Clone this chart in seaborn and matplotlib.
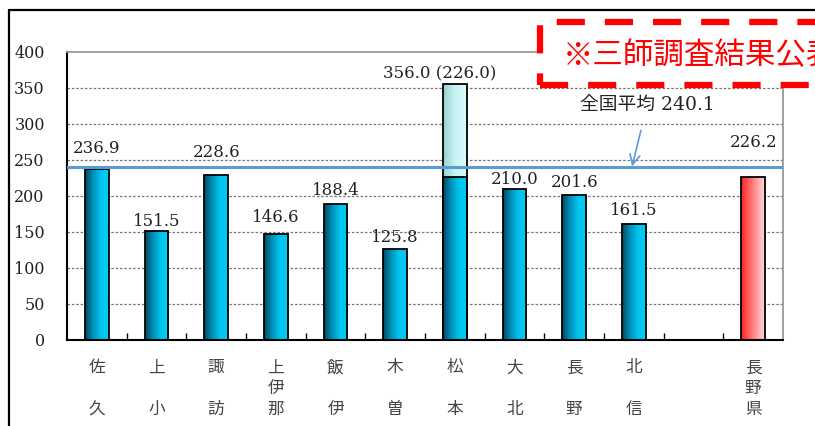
import numpy as np
import pandas as pd
import matplotlib
matplotlib.use("Agg")
import matplotlib.pyplot as plt
import seaborn as sns
from matplotlib.colors import LinearSegmentedColormap
from matplotlib.patches import Rectangle
from matplotlib.lines import Line2D

# ---- data ----
regions = ["佐久", "上小", "諏訪", "上伊那", "飯伊", "木曽", "松本", "大北", "長野", "北信", "", "長野県"]
values = [236.9, 151.5, 228.6, 146.6, 188.4, 125.8, 226.0, 210.0, 201.6, 161.5, np.nan, 226.2]
matsumoto_total = 356.0
national_avg = 240.1
value_labels = ["236.9", "151.5", "228.6", "146.6", "188.4", "125.8", "356.0 (226.0)",
                "210.0", "201.6", "161.5", "", "226.2"]
yticks = [0, 50, 100, 150, 200, 250, 300, 350, 400]

# label placement (pixels above bar top, horizontal shift in px)
label_dy = [21, 9, 23, 17, 14, 12, 10, 9, 12, 13, 0, 35]
label_dx = [0, 0, 0, 0, 0, 0, -15, 0, 0, 0, 0, 0]

sns.set_theme(style="white")
plt.rcParams["font.family"] = ["Noto Sans CJK JP", "DejaVu Sans"]

fig = plt.figure(figsize=(8.15, 4.26), dpi=100)
ax = fig.add_axes([67/815, 1-340/426, (783-67)/815, (340-52)/426])

keys = [f"r{i}" for i in range(len(regions))]
df = pd.DataFrame({"region": keys, "value": values})
idx_matsumoto = regions.index("松本")
tot = [np.nan]*len(regions)
tot[idx_matsumoto] = matsumoto_total
df_tot = pd.DataFrame({"region": keys, "value": tot})

sns.barplot(data=df_tot, x="region", y="value", ax=ax, width=0.4, color="#c0f0f0",
            edgecolor="black", linewidth=1.3, order=keys)
sns.barplot(data=df, x="region", y="value", ax=ax, width=0.4, color="#00c0e8",
            edgecolor="black", linewidth=1.3, order=keys)

cmap_blue = LinearSegmentedColormap.from_list("b", ["#004a62", "#0090b8", "#00c4ee", "#00ccf5"])
cmap_light = LinearSegmentedColormap.from_list("l", ["#98d0d0", "#c8f4f4", "#d8fcfc"])
cmap_red = LinearSegmentedColormap.from_list("r", ["#ff2020", "#ff8080", "#ffdada"])
grad = np.linspace(0, 1, 64).reshape(1, -1)

patches = [p for p in ax.patches if np.isfinite(p.get_height()) and p.get_height() > 0]
for p in patches:
    x0, y0 = p.get_x(), p.get_y()
    w, h = p.get_width(), p.get_height()
    i = int(round(x0 + w/2))
    if abs(h - matsumoto_total) < 1e-6:
        cm = cmap_light
    elif regions[i] == "長野県":
        cm = cmap_red
    else:
        cm = cmap_blue
    im = ax.imshow(grad, extent=[x0, x0+w, y0, y0+h], aspect="auto", cmap=cm,
                   zorder=p.get_zorder()+0.1, interpolation="bilinear")
    im.set_clip_path(p)
    p.set_facecolor("none")
    p.set_zorder(p.get_zorder()+0.2)

ax.set_xlim(-0.5, len(regions)-0.5)
ax.set_ylim(0, 400)
ax.set_yticks(yticks)
ax.set_yticklabels([str(v) for v in yticks], family="DejaVu Serif", fontsize=11.5, color="#222222")
ax.tick_params(axis="y", length=0, pad=16)

def vlabel(s):
    if len(s) == 2:
        return s[0] + "\n\n" + s[1]
    return "\n".join(s)
ax.set_xticks(range(len(regions)))
ax.set_xticklabels([vlabel(r) for r in regions], fontsize=12, color="#444444",
                   linespacing=1.3, va="top")
ax.tick_params(axis="x", length=0, pad=14)
ax.set_xticks(np.arange(0.5, len(regions)-0.5, 1), minor=True)
ax.tick_params(axis="x", which="minor", direction="in", length=5, width=1, color="black", bottom=True)
ax.set_xlabel("")
ax.set_ylabel("")

for y in yticks[1:-1]:
    ax.axhline(y, color="#777777", lw=0.9, ls=(0, (2, 1.5)), zorder=0.5)
for s in ["top", "right"]:
    ax.spines[s].set_color("#999999")
    ax.spines[s].set_linewidth(1.3)
for s in ["left", "bottom"]:
    ax.spines[s].set_color("black")
    ax.spines[s].set_linewidth(1.5)

# national average line
ax.axhline(national_avg, color="#5b9bd5", lw=2.2, zorder=5)
ax.annotate("全国平均 " + f"{national_avg}", xy=(8.97, national_avg + 1), xytext=(9.22, 325),
            ha="center", va="center", fontsize=13.5, family=["DejaVu Serif", "Noto Sans CJK JP"],
            color="#222222",
            arrowprops=dict(arrowstyle="->", color="#5b9bd5", lw=1.2, mutation_scale=18,
                            shrinkA=9, shrinkB=0), zorder=6)

# value labels
for i, lab in enumerate(value_labels):
    if not lab:
        continue
    top = matsumoto_total if i == idx_matsumoto else values[i]
    ax.annotate(lab, xy=(i, top), xytext=(label_dx[i]*0.72, label_dy[i]*0.72),
                textcoords="offset points", ha="center", va="center", fontsize=12,
                family="DejaVu Serif", color="#222222", zorder=6)

# outer frame
fig.add_artist(Line2D([9/815, 9/815], [0, 1-10/426], transform=fig.transFigure, color="black", lw=1.6))
fig.add_artist(Line2D([9/815, 1], [1-10/426, 1-10/426], transform=fig.transFigure, color="black", lw=1.6))

# red dashed box and notice text
box = Rectangle((540/815, 1-85/426), 400/815, 63/426, transform=fig.transFigure,
                fill=True, facecolor="white", edgecolor="#ff0000", lw=4.5,
                linestyle=(0, (4.5, 3.2)), zorder=10)
fig.add_artist(box)
fig.text(563/815, 1-56/426, "※三師調査結果公表", fontsize=22, color="#ff0000",
         style="italic", va="center", ha="left", zorder=11)

fig.savefig("out.png", dpi=100)
